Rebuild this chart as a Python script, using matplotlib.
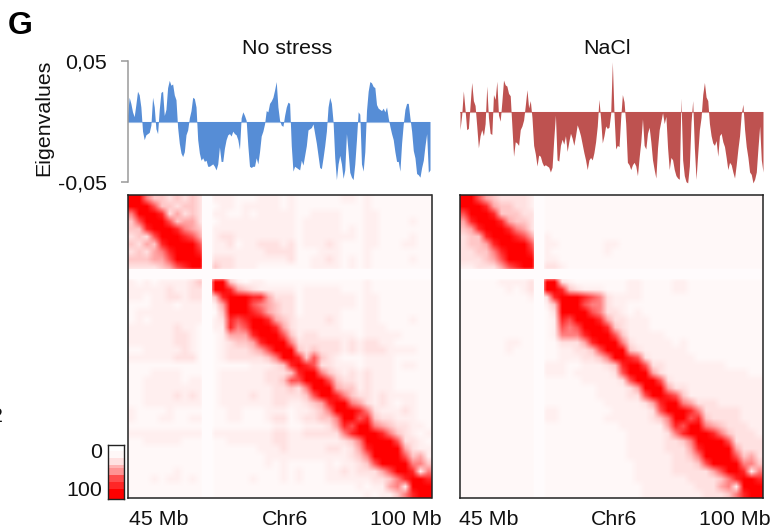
import numpy as np
import matplotlib
matplotlib.use("Agg")
import matplotlib.pyplot as plt
from matplotlib.colors import LinearSegmentedColormap

plt.rcParams['font.family'] = ['Liberation Sans', 'DejaVu Sans']

# Eigenvalue tracks, in thousandths, read every ~0.3 Mb
no_stress_eigen = [
    5, 20, 15, 8, 4, 14, 25, 22, 12, -8, -15, -11, -10, -9, -3, 20, 12, -6, -10, 10,
    24, 25, 5, 10, 28, 34, 30, 31, 22, 18, -5, -18, -26, -29, -25, -11, -7, 3, 9, 20,
    19, 12, -15, -26, -32, -30, -33, -32, -37, -37, -36, -35, -37, -40, -35, -21, -33, -33, -22, -15,
    -11, -10, -12, -8, -10, -11, -15, -23, 3, 8, 5, 1, -20, -37, -38, -37, -37, -30, -35, -25,
    -12, -8, -2, 9, 8, 15, 17, 20, 26, 33, 12, 1, -3, -4, 5, 12, 16, 15, -20, -41,
    -37, -38, -39, -40, -32, -36, -28, -20, -7, -6, -5, -2, -10, -18, -28, -38, -39, -30, -20, -8,
    12, 20, 15, 0, -30, -48, -35, -28, -35, -47, -40, -10, -25, -42, -46, -48, -35, -15, 8, 6,
    -35, -41, -25, 9, 25, 33, 32, 29, 28, 14, 11, 10, 9, 11, 8, 12, 3, -4, -10, -15,
    -25, -33, -33, -41, -18, -2, 10, 15, 15, 3, -8, -24, -30, -43, -44, -46, -38, -32, -20, -10,
    -42, -40]
nacl_eigen = [
    -15, -3, 17, 2, -15, -14, 5, 24, 9, 5, -12, -30, -20, -15, -20, -10, 21, -5, -18, -19,
    14, 10, 25, -3, -8, 8, 26, 22, 21, 15, 13, -12, -37, -25, -26, -28, -15, -12, -7, 5,
    18, 3, 9, -5, -28, -35, -45, -36, -37, -42, -45, -44, -45, -46, -50, -46, -23, -3, -40, -41,
    -28, -23, -27, -20, -33, -25, -18, -22, -28, -20, -11, -15, -20, -27, -34, -40, -48, -40, -38, -40,
    -34, -25, -12, 10, -6, -26, -20, -12, -14, -13, -2, 41, -2, -31, -28, -29, -5, 14, 8, -10,
    -42, -44, -48, -44, -42, -45, -53, -38, -25, -6, -28, -31, -18, -13, -25, -40, -48, -55, -30, -15,
    -8, -1, -10, -4, -30, -48, -38, -40, -48, -53, -55, -56, 11, -40, -53, -58, -59, -45, -9, 9,
    -30, -56, -35, -15, -5, 14, 24, 12, 9, -10, -20, -26, -28, -24, -37, -20, -18, -25, -29, -38,
    -48, -42, -44, -50, -55, -44, -31, -20, -2, 6, -15, -29, -38, -50, -52, -59, -56, -50, -30, -12,
    -40, -50]

# Contact maps: lower triangle, one digit per 1.375 Mb bin, 0 = white, 9 = full red
no_stress_rows = [
    "9", "99", "699", "4799", "44899", "343799", "4354899", "34356899", "444557999", "3333457899",
    "00000000000", "212122223409", "2222232233099", "22122332330489", "111222122202599",
    "1222222222014999", "12122222220238789", "222222322102286799", "2222223321012555899",
    "22222233210123445899", "112222232101233345799", "2222223331012333334699",
    "11111111110111112223489", "111222211101222222333489", "1122222122012222223347799",
    "11222222220122222223343699", "112222323201222232233334799", "1122222222012222222332234589",
    "21111211110112211122212234699", "211122112201122111233123344699",
    "1111111111011111111221122235879", "22222222220222222223322333336899",
    "112222211101122222233222222234699", "1111111111011111122232222233235899",
    "11111111110111111122222222222346999", "111111111101111111212111112122347999",
    "1111112111011111111121211122323335799", "11121221210111112111212111222222334689",
    "111111111101111111111111111111212256299", "1111111111011111111111111111111212246899",
]
nacl_rows = [
    "9", "99", "799", "5899", "45899", "344899", "3445899", "33446899", "333457999", "2233357899",
    "00000000000", "111112222309", "1111112123099", "11111111120389", "111111111102499",
    "1111111111013999", "11111111110128799", "111111111101276799", "1111111111012666899",
    "11111122110113335899", "111111211101122334799", "1111111111011222334699",
    "11111111110222112223489", "111111111102221222223799", "1111111111011111222223799",
    "11111111110111111122223599", "111111111101111111222233799", "1111111111011111111222223589",
    "11111111110221111111222223799", "111111111102211111122222234699",
    "1111111111011111111112222225879", "11111111110111111111112222236899",
    "111111111101111111111122222334699", "1111111111011111111111222223335899",
    "11111111110111111111112222223346999", "111111111101111111111112222233347999",
    "1111111111011111111111122222333335799", "11111111110111111111111222222233334689",
    "111111111101111111111111222222233356299", "1111111111011111111111112222222233346899",
]
level_values = [0, 0.03, 0.065, 0.12, 0.22, 0.35, 0.5, 0.68, 0.85, 1]
colorbar_bands = [0, 0, 0.03, 0.03, 0.12, 0.12, 0.3, 0.42, 0.42, 0.7, 0.7, 0.85, 0.85, 1, 1, 1]
gap_mb = (58.45, 60.26)

start_mb, end_mb = 45, 100

W, H = 773, 531
red_map = LinearSegmentedColormap.from_list("hic", ["#FFFFFF", "#FF0000"])


def px_axes(left, top, right, bottom):
    return fig.add_axes([left / W, 1 - bottom / H, (right - left) / W, (bottom - top) / H])


def px_text(x, y, s, **kw):
    kw.setdefault('ha', 'center')
    kw.setdefault('va', 'center')
    kw.setdefault('fontsize', 15.4)
    kw.setdefault('color', '#111111')
    fig.text(x / W, 1 - y / H, s, **kw)


def contact_matrix(rows):
    n = len(rows)
    m = np.zeros((n, n))
    for i, row in enumerate(rows):
        vals = [level_values[int(c)] for c in row]
        m[i, i + 1 - len(vals):i + 1] = vals
    return m + np.tril(m, -1).T


def draw_track(ax, values, color):
    vals = np.array(values) / 1000
    pos = np.linspace(start_mb, end_mb, len(vals))
    ax.fill_between(pos, 0, vals, color=color, lw=0, clip_on=False)
    ax.axhline(0, color=color, lw=0.8, alpha=0.6)
    ax.set_xlim(start_mb, end_mb)
    ax.set_ylim(-0.05, 0.05)
    ax.set_xticks([])
    for s in ['top', 'right', 'bottom', 'left']:
        ax.spines[s].set_visible(False)


def draw_map(ax, rows):
    ax.imshow(contact_matrix(rows), cmap=red_map, vmin=0, vmax=1, aspect='auto',
              interpolation='bilinear', extent=[start_mb, end_mb, end_mb, start_mb])
    ax.axvspan(*gap_mb, color='#FFFBFC', lw=0)
    ax.axhspan(*gap_mb, color='#FFFBFC', lw=0)
    ax.set_xticks([])
    ax.set_yticks([])
    for s in ax.spines.values():
        s.set_linewidth(1.1)
        s.set_color('#222222')


fig = plt.figure(figsize=(W / 100, H / 100), dpi=100)

# Tracks
ax1 = px_axes(127.5, 61, 430, 182)
draw_track(ax1, no_stress_eigen, '#568DD6')
ax1.spines['left'].set_visible(True)
ax1.spines['left'].set_color('#9A9A9A')
ax1.spines['left'].set_linewidth(1.1)
ax1.set_yticks([-0.05, 0.05])
ax1.set_yticklabels(['-0,05', '0,05'], fontsize=15.4, color='#111111')
ax1.tick_params(axis='y', length=5, width=1.1, color='#9A9A9A', pad=9.5)

ax2 = px_axes(460, 51, 763, 172)
draw_track(ax2, nacl_eigen, '#BE5250')
ax2.set_yticks([])

# Heatmaps
draw_map(px_axes(128, 195, 431.5, 498), no_stress_rows)
draw_map(px_axes(460, 195, 763, 498), nacl_rows)

# Colour key
ax3 = px_axes(107.5, 445, 123.5, 499)
ax3.imshow(np.array(colorbar_bands)[:, None], cmap=red_map, vmin=0, vmax=1, aspect='auto',
           interpolation='nearest')
ax3.set_xticks([])
ax3.set_yticks([])
for s in ax3.spines.values():
    s.set_linewidth(1.0)
    s.set_color('#222222')

# Labels
px_text(8, 26, "G", fontsize=23, fontweight='bold', color='black', ha='left')
px_text(287, 48, "No stress")
px_text(607, 48, "NaCl")
px_text(44, 118, "Eigenvalues", rotation=90)
px_text(102, 452, "0", ha='right')
px_text(102, 491, "100", ha='right')
px_text(159, 519.5, "45 Mb")
px_text(285, 519.5, "Chr6")
px_text(406, 519.5, "100 Mb")
px_text(489, 519.5, "45 Mb")
px_text(614, 519.5, "Chr6")
px_text(735, 519.5, "100 Mb")
px_text(-3, 417, "2")

fig.savefig("out.png", dpi=100)
plt.close(fig)
